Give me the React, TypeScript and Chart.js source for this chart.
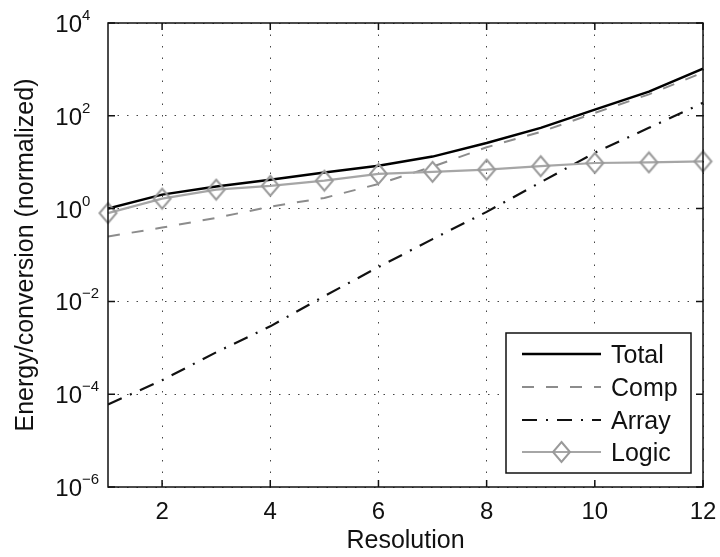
import React, { useEffect, useRef } from 'react';
import { Chart, registerables } from 'chart.js';

Chart.register(...registerables);

const resolution = [1, 2, 3, 4, 5, 6, 7, 8, 9, 10, 11, 12];
const total = [1.0, 2.0, 3.0, 4.2, 6.0, 8.4, 13.2, 26, 55, 136, 331, 1040];
const comp = [0.25, 0.39, 0.63, 1.1, 1.7, 3.4, 8, 21, 45, 115, 290, 860];
const arrayE = [6e-5, 2e-4, 8e-4, 2.9e-3, 0.013, 0.055, 0.22, 0.85, 3.7, 16, 55, 190];
const logic = [0.8, 1.64, 2.56, 3.1, 4.0, 5.6, 6.2, 6.9, 8.2, 9.6, 9.9, 10.4];
const seriesNames = ['Total', 'Comp', 'Array', 'Logic'];
const xTicks = [2, 4, 6, 8, 10, 12];
const yExponents = [-6, -4, -2, 0, 2, 4];
const xTitle = 'Resolution';
const yTitle = 'Energy/conversion (normalized)';

const FONT = '"Liberation Sans", Arial, Helvetica, sans-serif';
const LOGIC_COLOR = '#a6a6a6';
const DIAMOND_COLOR = '#9a9a9a';

const seriesStyles = [
  { color: '#000000', width: 2.5, dash: [] as number[] },
  { color: '#8c8c8c', width: 2, dash: [12, 12] },
  { color: '#111111', width: 2.2, dash: [15, 9, 2, 9] },
  { color: LOGIC_COLOR, width: 2.2, dash: [] as number[] },
];

function makeDiamond(w: number, h: number, color: string, lw: number) {
  const c = document.createElement('canvas');
  c.width = Math.ceil(w + lw * 2);
  c.height = Math.ceil(h + lw * 2);
  const g = c.getContext('2d')!;
  const cx = c.width / 2;
  const cy = c.height / 2;
  g.strokeStyle = color;
  g.lineWidth = lw;
  g.beginPath();
  g.moveTo(cx, cy - h / 2);
  g.lineTo(cx + w / 2, cy);
  g.lineTo(cx, cy + h / 2);
  g.lineTo(cx - w / 2, cy);
  g.closePath();
  g.stroke();
  return c;
}

export default function App() {
  const ref = useRef<HTMLCanvasElement | null>(null);

  useEffect(() => {
    if (!ref.current) return;
    const diamond = makeDiamond(17, 20, DIAMOND_COLOR, 2);
    const seriesData = [total, comp, arrayE, logic];

    const axesPlugin = {
      id: 'matlabAxes',
      afterDraw(chart: any) {
        const { ctx, chartArea: a, scales } = chart;
        const xs = scales.x;
        const ys = scales.y;
        ctx.save();
        ctx.setLineDash([]);
        ctx.strokeStyle = '#111';
        ctx.lineWidth = 1.5;
        ctx.strokeRect(a.left, a.top, a.right - a.left, a.bottom - a.top);
        ctx.beginPath();
        xTicks.forEach((v) => {
          const px = xs.getPixelForValue(v);
          ctx.moveTo(px, a.bottom);
          ctx.lineTo(px, a.bottom - 7);
          ctx.moveTo(px, a.top);
          ctx.lineTo(px, a.top + 7);
        });
        yExponents.forEach((e) => {
          const py = ys.getPixelForValue(Math.pow(10, e));
          ctx.moveTo(a.left, py);
          ctx.lineTo(a.left + 7, py);
          ctx.moveTo(a.right, py);
          ctx.lineTo(a.right - 7, py);
        });
        ctx.stroke();

        ctx.fillStyle = '#111';
        // x tick labels
        ctx.font = `24px ${FONT}`;
        ctx.textAlign = 'center';
        ctx.textBaseline = 'alphabetic';
        xTicks.forEach((v) => {
          ctx.fillText(String(v), xs.getPixelForValue(v), a.bottom + 32);
        });
        // y tick labels
        yExponents.forEach((e) => {
          const py = ys.getPixelForValue(Math.pow(10, e));
          ctx.font = `24px ${FONT}`;
          ctx.textAlign = 'right';
          ctx.fillText('10', a.left - 26, py + 9);
          ctx.font = `15px ${FONT}`;
          ctx.textAlign = 'left';
          const exp = e < 0 ? '\u2212' + String(-e) : String(e);
          ctx.fillText(exp, a.left - 26, py - 3);
        });
        // titles
        ctx.font = `25px ${FONT}`;
        ctx.textAlign = 'center';
        ctx.fillText(xTitle, (a.left + a.right) / 2, a.bottom + 61);
        ctx.save();
        ctx.translate(33, (a.top + a.bottom) / 2);
        ctx.rotate(-Math.PI / 2);
        ctx.fillText(yTitle, 0, 0);
        ctx.restore();

        // legend
        const bw = 185;
        const bh = 140;
        const bx = a.right - 12 - bw;
        const by = a.bottom - 14 - bh;
        ctx.fillStyle = '#fff';
        ctx.fillRect(bx, by, bw, bh);
        ctx.strokeStyle = '#111';
        ctx.lineWidth = 1.5;
        ctx.strokeRect(bx, by, bw, bh);
        const rowOffsets = [21, 54, 87, 119];
        seriesNames.forEach((name, i) => {
          const ry = by + rowOffsets[i];
          const st = seriesStyles[i];
          ctx.save();
          ctx.strokeStyle = st.color;
          ctx.lineWidth = st.width;
          ctx.setLineDash(st.dash);
          ctx.beginPath();
          ctx.moveTo(bx + 16, ry);
          ctx.lineTo(bx + 95, ry);
          ctx.stroke();
          ctx.restore();
          if (i === 3) {
            ctx.drawImage(diamond, bx + 55.5 - diamond.width / 2, ry - diamond.height / 2);
          }
          ctx.fillStyle = '#111';
          ctx.font = `25px ${FONT}`;
          ctx.textAlign = 'left';
          ctx.fillText(name, bx + 105, ry + 9);
        });
        ctx.restore();
      },
    };

    const datasets = seriesNames.map((name, i) => {
      const st = seriesStyles[i];
      const isLogic = i === 3;
      return {
        label: name,
        data: resolution.map((r, k) => ({ x: r, y: seriesData[i][k] })),
        borderColor: st.color,
        backgroundColor: 'transparent',
        borderWidth: st.width,
        borderDash: st.dash,
        pointRadius: isLogic ? 9 : 0,
        pointStyle: isLogic ? diamond : 'circle',
        pointBorderColor: DIAMOND_COLOR,
        pointBackgroundColor: 'transparent',
        tension: 0,
        clip: isLogic ? false : undefined,
        order: 3 - i,
      };
    });

    const chart = new Chart(ref.current, {
      type: 'line',
      data: { datasets } as any,
      options: {
        responsive: false,
        animation: false,
        layout: { padding: { top: 23, right: 17, left: 0, bottom: 0 } },
        plugins: { legend: { display: false }, tooltip: { enabled: false } },
        scales: {
          x: {
            type: 'linear',
            min: 1,
            max: 12,
            afterBuildTicks: (s: any) => {
              s.ticks = xTicks.map((v) => ({ value: v }));
            },
            ticks: { display: false },
            grid: { color: '#444', lineWidth: 1, drawTicks: false },
            border: { display: false, dash: [1.5, 10] },
            afterFit: (s: any) => {
              s.height = 70;
              s.paddingLeft = 0;
              s.paddingRight = 0;
            },
          },
          y: {
            type: 'logarithmic',
            min: 1e-6,
            max: 1e4,
            afterBuildTicks: (s: any) => {
              s.ticks = yExponents.map((e) => ({ value: Math.pow(10, e) }));
            },
            ticks: { display: false },
            grid: { color: '#444', lineWidth: 1, drawTicks: false },
            border: { display: false, dash: [1.5, 8] },
            afterFit: (s: any) => {
              s.width = 108;
              s.paddingTop = 0;
              s.paddingBottom = 0;
            },
          },
        },
      } as any,
      plugins: [axesPlugin],
    });
    return () => chart.destroy();
  }, []);

  return (
    <canvas
      ref={ref}
      width={720}
      height={557}
      style={{ display: 'block', position: 'absolute', left: 0, top: 0 }}
    />
  );
}
